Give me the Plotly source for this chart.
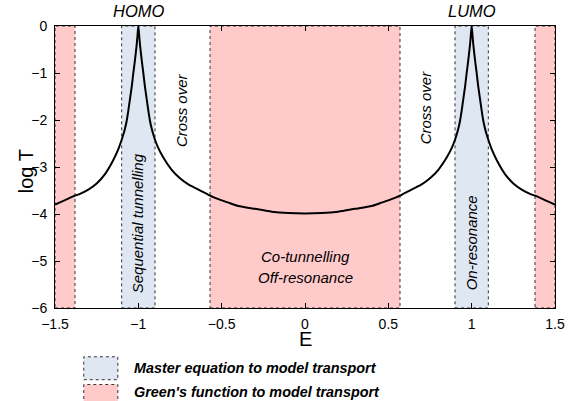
import plotly.graph_objects as go

# ---- data ----
E = [-1.5, -1.45, -1.38, -1.35, -1.3, -1.25, -1.2, -1.15, -1.12, -1.1,
     -1.09, -1.08, -1.07, -1.06, -1.05, -1.04, -1.03, -1.02, -1.01, -1.005,
     -1.0, -0.995, -0.99, -0.98, -0.97, -0.96, -0.95, -0.94, -0.93, -0.92,
     -0.91, -0.9, -0.88, -0.85, -0.8, -0.75, -0.7, -0.65, -0.6, -0.57,
     -0.5, -0.45, -0.4, -0.3, -0.2, -0.1, 0.0,
     0.1, 0.2, 0.3, 0.4, 0.45, 0.5, 0.57, 0.6, 0.65, 0.7,
     0.75, 0.8, 0.85, 0.88, 0.9, 0.91, 0.92, 0.93, 0.94, 0.95,
     0.96, 0.97, 0.98, 0.99, 0.995, 1.0, 1.005, 1.01, 1.02, 1.03,
     1.04, 1.05, 1.06, 1.07, 1.08, 1.09, 1.1, 1.12, 1.15, 1.2,
     1.25, 1.3, 1.35, 1.38, 1.45, 1.5]
logT = [-3.80, -3.72, -3.61, -3.57, -3.48, -3.35, -3.15, -2.85, -2.62, -2.42,
        -2.31, -2.18, -2.02, -1.80, -1.55, -1.30, -1.00, -0.72, -0.40, -0.20,
        0.0, -0.20, -0.40, -0.72, -1.00, -1.30, -1.55, -1.80, -2.02, -2.18,
        -2.31, -2.42, -2.60, -2.80, -3.06, -3.24, -3.37, -3.46, -3.55, -3.61,
        -3.71, -3.77, -3.83, -3.89, -3.95, -3.98, -3.99,
        -3.98, -3.95, -3.89, -3.83, -3.77, -3.71, -3.61, -3.55, -3.46, -3.37,
        -3.24, -3.06, -2.80, -2.60, -2.42, -2.31, -2.18, -2.02, -1.80, -1.55,
        -1.30, -1.00, -0.72, -0.40, -0.20, 0.0, -0.20, -0.40, -0.72, -1.00,
        -1.30, -1.55, -1.80, -2.02, -2.18, -2.31, -2.42, -2.62, -2.85, -3.15,
        -3.35, -3.48, -3.57, -3.61, -3.72, -3.80]

x_tick_vals = [-1.5, -1, -0.5, 0, 0.5, 1, 1.5]
x_tick_text = ["\u22121.5", "\u22121", "\u22120.5", "0", "0.5", "1", "1.5"]
y_tick_vals = [0, -1, -2, -3, -4, -5, -6]
y_tick_text = ["0", "\u22121", "\u22122", "\u22123", "\u22124", "\u22125", "\u22126"]

master_bands = [(-1.1, -0.9), (0.9, 1.1)]
green_bands = [(-1.5, -1.38), (-0.57, 0.57), (1.38, 1.5)]

legend_labels = ["Master equation to model transport",
                 "Green's function to model transport"]

# ---- styles ----
FONT = "Liberation Sans, Arial, Helvetica, sans-serif"
BLUE = "rgb(223,231,243)"
RED = "rgb(255,202,202)"
BORDER = "#333333"

fig = go.Figure()
fig.add_trace(go.Scatter(x=E, y=logT, mode="lines",
                         line=dict(color="black", width=2, shape="spline", smoothing=0.6),
                         showlegend=False, hoverinfo="skip"))

shapes = []
for x0, x1 in green_bands:
    shapes.append(dict(type="rect", xref="x", yref="y", x0=x0, x1=x1, y0=-6, y1=0,
                       fillcolor=RED, line=dict(color=BORDER, width=1, dash="dot"),
                       layer="below"))
for x0, x1 in master_bands:
    shapes.append(dict(type="rect", xref="x", yref="y", x0=x0, x1=x1, y0=-6, y1=0,
                       fillcolor=BLUE, line=dict(color=BORDER, width=1, dash="dot"),
                       layer="below"))

# legend boxes (paper coords)
shapes.append(dict(type="rect", xref="paper", yref="paper", x0=0.0575, x1=0.1257,
                   y0=-0.2543, y1=-0.173, fillcolor=BLUE,
                   line=dict(color=BORDER, width=1, dash="dot")))
shapes.append(dict(type="rect", xref="paper", yref="paper", x0=0.0575, x1=0.1257,
                   y0=-0.3506, y1=-0.2714, fillcolor=RED,
                   line=dict(color=BORDER, width=1, dash="dot")))

def ann(text, x, y, size=15, angle=0, xref="x", yref="y", xanchor="center", **kw):
    return dict(text=text, x=x, y=y, xref=xref, yref=yref, showarrow=False,
                textangle=angle, xanchor=xanchor, yanchor="middle",
                font=dict(family=FONT, size=size, color="black"), **kw)

annotations = [
    ann("<i>HOMO</i>", -1.0, 1.0515, size=16.5, yref="paper"),
    ann("<i>LUMO</i>", 1.0, 1.0515, size=16.5, yref="paper"),
    ann("<i>Sequential tunnelling</i>", -1.0, -4.19, angle=-90),
    ann("<i>Cross over</i>", -0.742, -1.78, angle=-90),
    ann("<i>Cross over</i>", 0.72, -1.73, angle=-90),
    ann("<i>On-resonance</i>", 1.0, -4.61, angle=-90),
    ann("<i>Co-tunnelling</i>", 0.0, -4.90),
    ann("<i>Off-resonance</i>", 0.0, -5.35),
    ann("E", 0.0, -0.1095, size=20, yref="paper"),
    ann("log T", -0.059, -3.10, size=20, angle=-90, xref="paper"),
    ann("<b><i>" + legend_labels[0] + "</i></b>", 0.1538, -0.2131, size=14.4,
        xref="paper", yref="paper", xanchor="left"),
    ann("<b><i>" + legend_labels[1] + "</i></b>", 0.1538, -0.2984, size=14.4,
        xref="paper", yref="paper", xanchor="left"),
]

axis_common = dict(showline=True, linecolor="black", linewidth=1, mirror="allticks",
                   ticks="inside", ticklen=5, tickcolor="black", tickwidth=1,
                   showgrid=False, zeroline=False,
                   tickfont=dict(family=FONT, size=14, color="black"))

fig.update_layout(
    width=581, height=401,
    margin=dict(l=55, r=26, t=26, b=93),
    paper_bgcolor="white", plot_bgcolor="white",
    xaxis=dict(range=[-1.5, 1.5], tickvals=x_tick_vals, ticktext=x_tick_text,
               ticklabelstandoff=3, **axis_common),
    yaxis=dict(range=[-6, 0], tickvals=y_tick_vals, ticktext=y_tick_text,
               ticklabelstandoff=4, **axis_common),
    shapes=shapes, annotations=annotations,
    font=dict(family=FONT, color="black"),
    showlegend=False,
)

# remove the default page margin so the figure fills the window exactly
fig.write_html("out.html", config={"displayModeBar": False},
               post_script="document.body.style.margin='0';document.body.style.overflow='hidden';")
